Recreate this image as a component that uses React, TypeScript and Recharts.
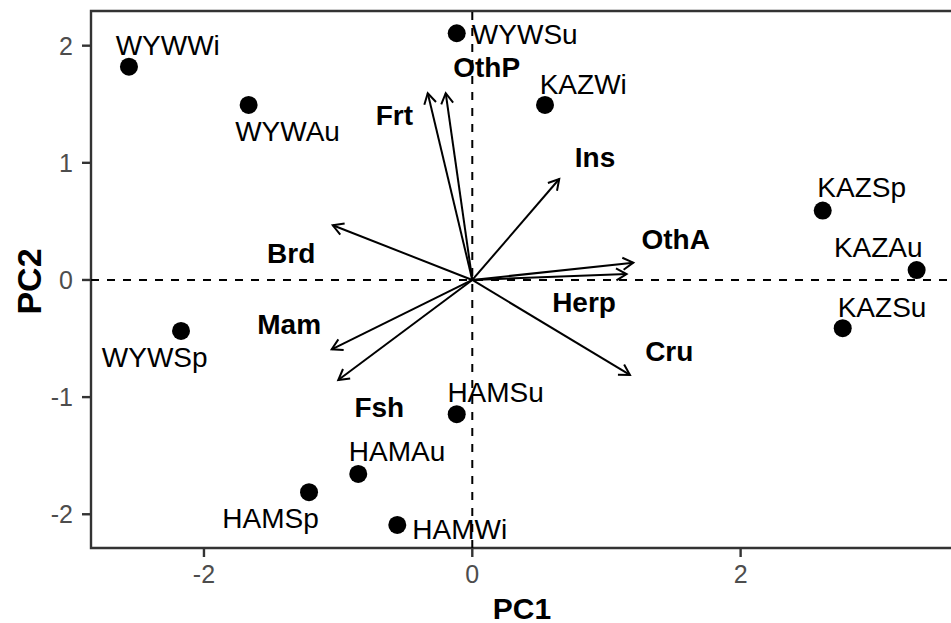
import React from 'react';
import { ScatterChart, Scatter, XAxis, YAxis, ReferenceLine, ReferenceArea } from 'recharts';

// Site-season scores (PC1, PC2)
const siteNames = ['WYWWi', 'WYWAu', 'WYWSp', 'HAMSp', 'HAMAu', 'HAMWi', 'HAMSu', 'WYWSu', 'KAZWi', 'KAZSp', 'KAZAu', 'KAZSu'];
const sitePC1 = [-2.559, -1.667, -2.171, -1.217, -0.85, -0.559, -0.116, -0.116, 0.542, 2.612, 3.312, 2.761];
const sitePC2 = [1.821, 1.494, -0.435, -1.812, -1.656, -2.091, -1.146, 2.106, 1.494, 0.592, 0.085, -0.412];
// Repelled label positions for the site labels
const siteLabelPC1 = [-2.27, -1.377, -2.367, -1.504, -0.561, -0.094, 0.174, 0.391, 0.827, 2.902, 3.026, 3.054];
const siteLabelPC2 = [2.01, 1.274, -0.657, -2.034, -1.46, -2.125, -0.959, 2.1, 1.676, 0.791, 0.279, -0.233];

// Diet-category loadings (arrow tips)
const dietNames = ['Frt', 'OthP', 'Ins', 'Brd', 'OthA', 'Herp', 'Cru', 'Mam', 'Fsh'];
const dietPC1 = [-0.332, -0.198, 0.648, -1.04, 1.2, 1.15, 1.175, -1.048, -0.999];
const dietPC2 = [1.594, 1.594, 0.862, 0.467, 0.148, 0.051, -0.811, -0.592, -0.854];
const dietLabelPC1 = [-0.581, 0.107, 0.915, -1.35, 1.516, 0.833, 1.468, -1.365, -0.693];
const dietLabelPC2 = [1.406, 1.821, 1.047, 0.235, 0.35, -0.19, -0.606, -0.378, -1.087];

const xTicks = [-2, 0, 2];
const yTicks = [-2, -1, 0, 1, 2];
const xDomain: [number, number] = [-2.842, 3.583];
const yDomain: [number, number] = [-2.288, 2.296];

const FONT = '"Liberation Sans", Arial, Helvetica, sans-serif';
const LABEL_FS = 28;

const sitePoints = siteNames.map((n, i) => ({ name: n, x: sitePC1[i], y: sitePC2[i] }));
const siteLabels = siteNames.map((n, i) => ({ name: n, x: siteLabelPC1[i], y: siteLabelPC2[i] }));
const dietLabels = dietNames.map((n, i) => ({ name: n, x: dietLabelPC1[i], y: dietLabelPC2[i] }));

const Dot = (p: any) => <circle cx={p.cx} cy={p.cy} r={9} fill="#000" />;

const makeText = (bold: boolean) => (p: any) => (
  <text
    x={p.cx}
    y={p.cy}
    dy={LABEL_FS * 0.36}
    textAnchor="middle"
    fontFamily={FONT}
    fontSize={LABEL_FS}
    fontWeight={bold ? 'bold' : 'normal'}
    fill="#000"
  >
    {p.payload.name}
  </text>
);

const Arrow = (p: any) => {
  const { x1, y1, x2, y2 } = p;
  const ang = Math.atan2(y2 - y1, x2 - x1);
  const L = 12;
  const a = Math.PI / 6;
  const ax1 = x2 - L * Math.cos(ang - a);
  const ay1 = y2 - L * Math.sin(ang - a);
  const ax2 = x2 - L * Math.cos(ang + a);
  const ay2 = y2 - L * Math.sin(ang + a);
  return (
    <g>
      <line x1={x1} y1={y1} x2={x2} y2={y2} stroke="#000" strokeWidth={2} />
      <path d={`M${ax1},${ay1}L${x2},${y2}L${ax2},${ay2}`} fill="none" stroke="#000" strokeWidth={2} />
    </g>
  );
};

const tickStyle = { fill: '#4D4D4D', fontSize: 25, fontFamily: FONT };

export default function App() {
  return (
    <div style={{ position: 'fixed', left: 0, top: 0, width: 951, height: 623, overflow: 'hidden', background: '#fff' }}>
      <ScatterChart width={953} height={623} margin={{ top: 11, right: 0, bottom: 0, left: 0 }}>
        <XAxis
          type="number"
          dataKey="x"
          domain={xDomain}
          ticks={xTicks}
          allowDataOverflow
          height={75}
          axisLine={false}
          tickLine={{ stroke: '#333', strokeWidth: 2.4 }}
          tickSize={9}
          tickMargin={8}
          tick={tickStyle}
          label={{
            content: (props: any) => {
              const vb = props.viewBox;
              return (
                <text x={vb.x + vb.width / 2} y={vb.y + 70.5} textAnchor="middle" fontFamily={FONT} fontSize={30} fontWeight="bold" fill="#000">
                  PC1
                </text>
              );
            },
          }}
        />
        <YAxis
          type="number"
          dataKey="y"
          domain={yDomain}
          ticks={yTicks}
          allowDataOverflow
          width={91}
          axisLine={false}
          tickLine={{ stroke: '#333', strokeWidth: 2.4 }}
          tickSize={9}
          tickMargin={9}
          tick={tickStyle}
          label={{
            content: (props: any) => {
              const vb = props.viewBox;
              const cx = 29.2;
              const cy = vb.y + vb.height / 2 + 2;
              return (
                <text
                  x={cx}
                  y={cy}
                  dy={34 * 0.36}
                  transform={`rotate(-90 ${cx} ${cy})`}
                  textAnchor="middle"
                  fontFamily={FONT}
                  fontSize={34}
                  fontWeight="bold"
                  fill="#000"
                >
                  PC2
                </text>
              );
            },
          }}
        />
        <ReferenceLine x={0} stroke="#000" strokeWidth={2} strokeDasharray="8 8" />
        <ReferenceLine y={0} stroke="#000" strokeWidth={2} strokeDasharray="8 8" />
        {dietNames.map((n, i) => (
          <ReferenceLine
            key={n}
            segment={[
              { x: 0, y: 0 },
              { x: dietPC1[i], y: dietPC2[i] },
            ]}
            shape={Arrow}
          />
        ))}
        <Scatter data={sitePoints} shape={Dot} isAnimationActive={false} />
        <Scatter data={dietLabels} shape={makeText(true)} isAnimationActive={false} />
        <Scatter data={siteLabels} shape={makeText(false)} isAnimationActive={false} />
        <ReferenceArea
          x1={xDomain[0]}
          x2={xDomain[1]}
          y1={yDomain[0]}
          y2={yDomain[1]}
          fill="none"
          fillOpacity={0}
          stroke="#333"
          strokeWidth={2.4}
        />
      </ScatterChart>
    </div>
  );
}
